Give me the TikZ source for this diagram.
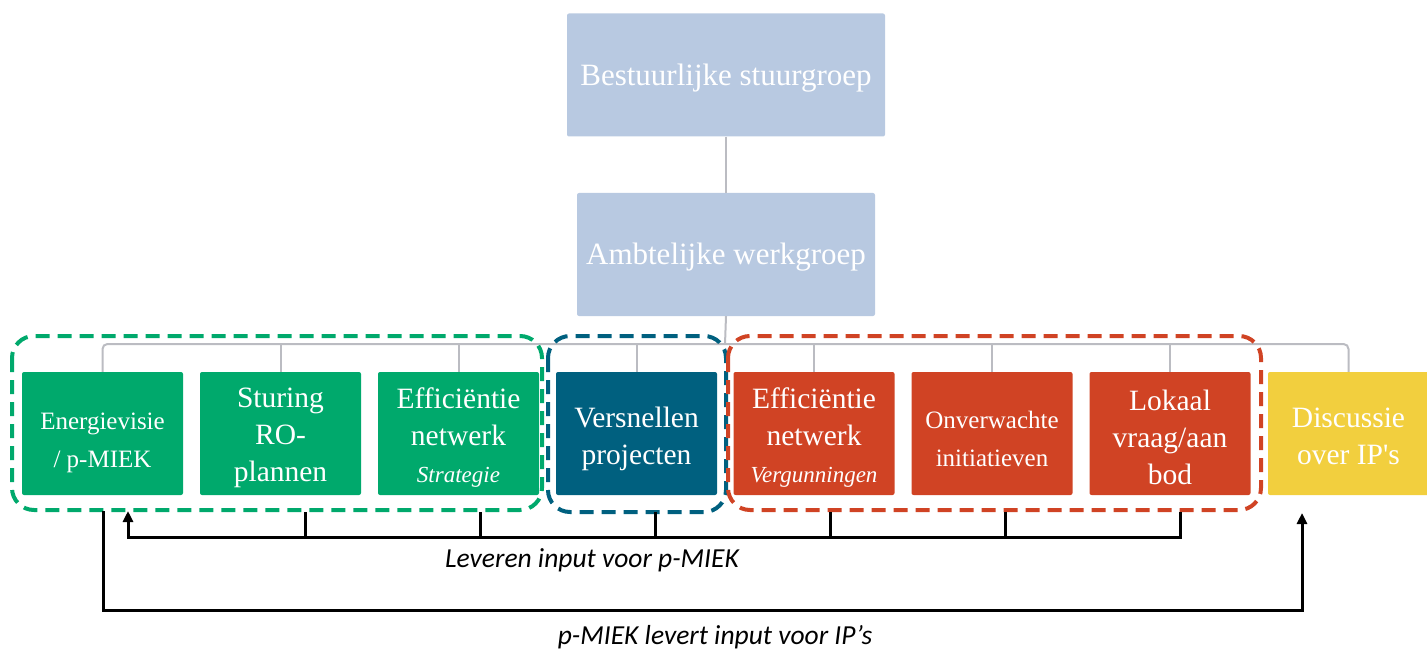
\documentclass[tikz,border=0pt]{standalone}
\usepackage{fontspec}
\setmainfont{Liberation Serif}
\newfontfamily\boxfont{Liberation Serif}[Ligatures=TeXOff]
\newfontfamily\labfont{Carlito}
\usetikzlibrary{arrows.meta}
\definecolor{topblue}{HTML}{B8C9E1}
\definecolor{mgreen}{HTML}{00A96C}
\definecolor{mblue}{HTML}{00607F}
\definecolor{mred}{HTML}{D04324}
\definecolor{myellow}{HTML}{F2CF3E}
\definecolor{conngray}{HTML}{BBBCC2}
\tikzset{
  box/.style={rounded corners=2pt, minimum width=161, minimum height=123, inner sep=2pt,
    align=center, text=white, font=\boxfont\fontsize{29.5}{37}\selectfont},
  topbox/.style={box, fill=topblue, minimum width=318, minimum height=123, font=\boxfont\fontsize{31}{37}\selectfont},
  smallbox/.style={font=\boxfont\fontsize{25}{38}\selectfont},
  grpbox/.style={line width=4pt, dash pattern=on 14pt off 8pt, rounded corners=22pt},
  tree/.style={draw=conngray, line width=2pt, rounded corners=5pt},
  feed/.style={draw=black, line width=3pt},
  lab/.style={font=\labfont\itshape\fontsize{27.5}{30}\selectfont}
}
\newcommand{\subtxt}[1]{{\itshape\fontsize{23}{37}\selectfont #1}}
\newcommand{\dn}[1]{\rule{0pt}{#1pt}}
\begin{document}
\begin{tikzpicture}[x=1pt,y=-1pt]
\useasboundingbox (0,0) rectangle (1427,655);
% top boxes
\node[topbox] (bs) at (726,75) {\dn{27}Bestuurlijke stuurgroep};
\node[topbox, minimum width=298] (aw) at (726,254.5) {\dn{27}Ambtelijke werkgroep};
% bottom boxes
\node[box, fill=mgreen, smallbox] (b1) at (102.5,433.5) {\dn{35}Energievisie\\/ p-MIEK};
\node[box, fill=mgreen] (b2) at (280.5,433.5) {\dn{29}Sturing\\RO-\\plannen};
\node[box, fill=mgreen] (b3) at (458.5,433.5) {\dn{29}Efficiëntie\\netwerk\\\subtxt{Strategie}};
\node[box, fill=mblue] (b4) at (636.5,433.5) {\dn{31}Versnellen\\projecten};
\node[box, fill=mred] (b5) at (814,433.5) {\dn{29}Efficiëntie\\netwerk\\\subtxt{Vergunningen}};
\node[box, fill=mred, smallbox] (b6) at (992,433.5) {\dn{29}Onverwachte\\initiatieven};
\node[box, fill=mred] (b7) at (1170,433.5) {\dn{29}Lokaal\\vraag/aan\\bod};
\node[box, fill=myellow] (b8) at (1348.5,433.5) {\dn{26}Discussie\\over IP's};
% tree connectors
\coordinate (bus) at (725,344);
\draw[tree] (bs.south) -- (aw.north);
\draw[tree] (aw.south) -- (bus);
\draw[tree] (b1.north) -- (b1.north |- bus) -- (b8.north |- bus) -- (b8.north);
\foreach \b in {b2,b3,b4,b5,b6,b7} \draw[tree] (\b.north) -- (\b.north |- bus);
% group frames
\draw[grpbox, draw=mgreen] (12,336) rectangle (542,510);
\draw[grpbox, draw=mblue] (548,336) rectangle (726,512);
\draw[grpbox, draw=mred] (728,336) rectangle (1261,510);
% feedback bus
\coordinate (fb) at (128,537);
\coordinate (up1) at (128,511);
\foreach \x in {305,480,655,830,1005} \draw[feed] (\x,512) -- (\x,537);
\draw[feed, -{Triangle[length=11pt,width=10pt]}] (1180,512) -- (1180,537) -- (fb) -- (up1);
\node[lab] (l1) at (592,560) {Leveren input voor p-MIEK};
% long loop
\coordinate (s2) at (103,511);
\coordinate (e2) at (1302,513);
\draw[feed, -{Triangle[length=11pt,width=10pt]}] (s2) -- (103,610) -- (1302,610) -- (e2);
\node[lab] (l2) at (715,637) {p-MIEK levert input voor IP’s};
\end{tikzpicture}
\end{document}
